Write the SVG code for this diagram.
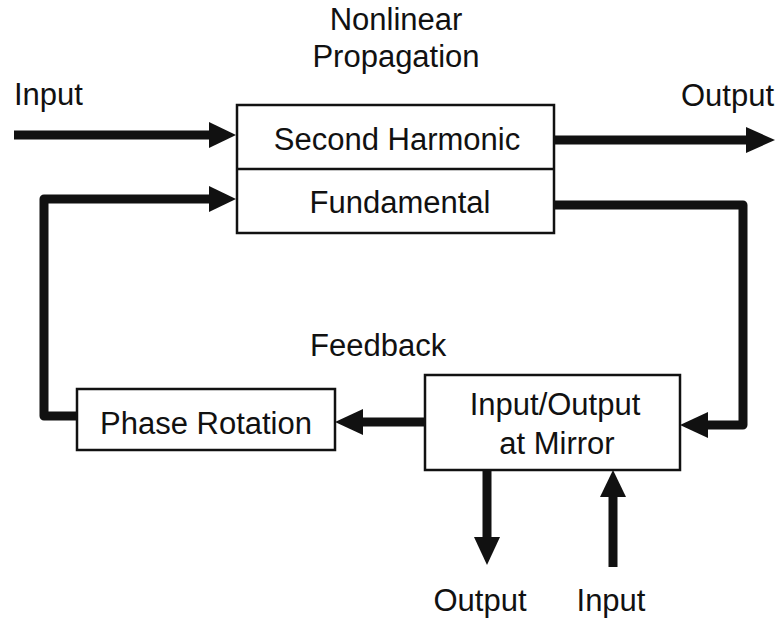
<svg xmlns="http://www.w3.org/2000/svg" width="781" height="623" viewBox="0 0 781 623">
<style>
text{font-family:"Liberation Sans",Arial,Helvetica,sans-serif;font-size:31px;fill:#111}
.box{fill:#fff;stroke:#111;stroke-width:2.5}
.wire{fill:none;stroke:#111;stroke-width:9;stroke-linejoin:round}
.head{fill:#111}
</style>
<rect width="781" height="623" fill="#fff"/>
<g id="labels">
<text x="396" y="30" text-anchor="middle">Nonlinear</text>
<text x="396" y="67" text-anchor="middle">Propagation</text>
<text x="14" y="105">Input</text>
<text x="681" y="106">Output</text>
<text x="310" y="356">Feedback</text>
<text x="480" y="611" text-anchor="middle">Output</text>
<text x="611" y="611" text-anchor="middle">Input</text>
</g>
<g id="nonlinear">
<rect class="box" x="237" y="105" width="317" height="128"/>
<line x1="237" y1="169" x2="554" y2="169" stroke="#111" stroke-width="2.5"/>
<text x="397" y="150" text-anchor="middle">Second Harmonic</text>
<text x="400" y="213" text-anchor="middle">Fundamental</text>
</g>
<g id="phase">
<rect class="box" x="77" y="389" width="258" height="61"/>
<text x="206" y="434" text-anchor="middle">Phase Rotation</text>
</g>
<g id="mirror">
<rect class="box" x="425" y="375" width="255" height="95"/>
<text x="555" y="415" text-anchor="middle">Input/Output</text>
<text x="557" y="454" text-anchor="middle">at Mirror</text>
</g>
<g id="connectors">
<path class="wire" d="M14 135 H212"/>
<polygon class="head" points="236,135 209,122 209,148"/>
<path class="wire" d="M77 416 H44 V199 H212"/>
<polygon class="head" points="236,199 209,186 209,212"/>
<path class="wire" d="M554 140 H750"/>
<polygon class="head" points="775,140 746,127 746,153"/>
<path class="wire" d="M554 205 H743 V425 H705"/>
<polygon class="head" points="680,425 708,412 708,438"/>
<path class="wire" d="M425 422 H360"/>
<polygon class="head" points="335,422 363,409 363,435"/>
<path class="wire" d="M487 470 V540"/>
<polygon class="head" points="487,565 474,537 500,537"/>
<path class="wire" d="M613 567 V495"/>
<polygon class="head" points="613,470 600,497 626,497"/>
</g>
</svg>
